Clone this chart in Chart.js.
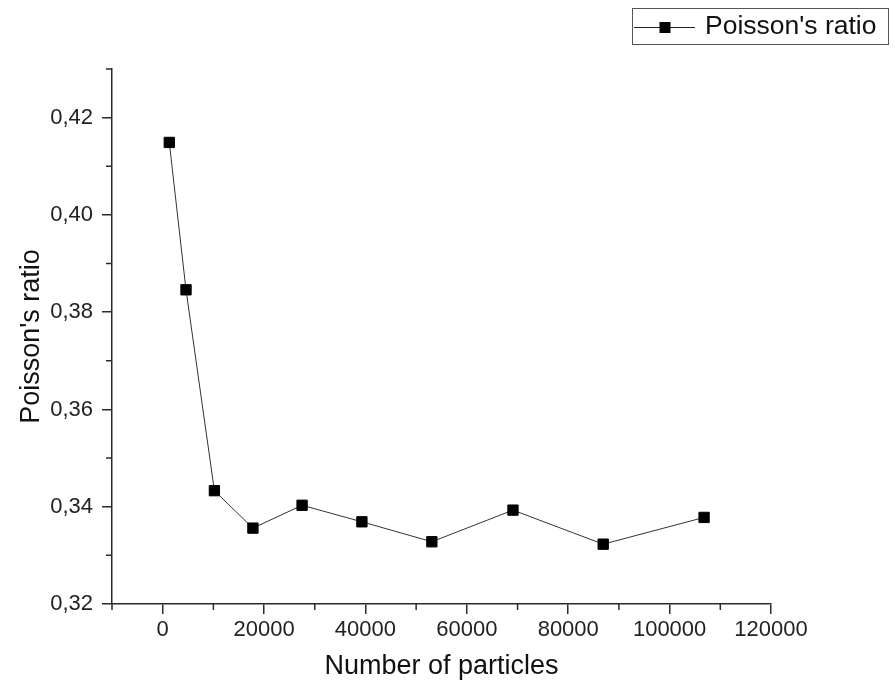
<!DOCTYPE html>
<html>
<head>
<meta charset="utf-8">
<title>Poisson's ratio</title>
<script src="https://cdn.jsdelivr.net/npm/chart.js@4.4.1/dist/chart.umd.min.js"></script>
<style>
    html, body { margin: 0; padding: 0; background: #fff; }
    canvas { display: block; }
</style>
</head>
<body>
<canvas id="grafico" width="895" height="686"></canvas>
<script>
// ======= Datos =======
const particles = [1300, 4600, 10200, 17800, 27500, 39300, 53100, 69100, 86900, 106800];
const ratio = [0.4149, 0.3846, 0.3433, 0.3356, 0.3403, 0.3369, 0.3328, 0.3393, 0.3323, 0.3378];

const xTicks = [0, 20000, 40000, 60000, 80000, 100000, 120000];
const xMinor = [-10000, 10000, 30000, 50000, 70000, 90000, 110000];
const yTicks = [0.32, 0.34, 0.36, 0.38, 0.40, 0.42];
const yMinor = [0.33, 0.35, 0.37, 0.39, 0.41, 0.43];

const serieNombre = "Poisson's ratio";
const ejeX = 'Number of particles';
const ejeY = "Poisson's ratio";

const fuente = 'Arial, "Liberation Sans", sans-serif';
const ejeColor = '#2a2a2a';

// ======= Plugin: ticks menores + leyenda con recuadro =======
const extrasPlugin = {
    id: 'extras',
    afterDraw(chart) {
        const ctx = chart.ctx;
        const xs = chart.scales.x;
        const ys = chart.scales.y;
        const area = chart.chartArea;

        ctx.save();
        ctx.strokeStyle = ejeColor;
        ctx.lineWidth = 1.5;
        ctx.beginPath();
        xMinor.forEach(v => {
            const px = xs.getPixelForValue(v);
            ctx.moveTo(px, area.bottom);
            ctx.lineTo(px, area.bottom + 6);
        });
        yMinor.forEach(v => {
            const py = ys.getPixelForValue(v);
            ctx.moveTo(area.left, py);
            ctx.lineTo(area.left - 6, py);
        });
        ctx.stroke();

        // leyenda
        ctx.strokeStyle = '#555';
        ctx.lineWidth = 1;
        ctx.strokeRect(632.5, 8.5, 256, 36);
        ctx.strokeStyle = '#222';
        ctx.beginPath();
        ctx.moveTo(634, 27.5);
        ctx.lineTo(695, 27.5);
        ctx.stroke();
        ctx.fillStyle = '#000';
        ctx.fillRect(659.5, 22, 11, 11);
        ctx.font = '26.5px ' + fuente;
        ctx.textBaseline = 'middle';
        ctx.fillStyle = '#111';
        ctx.fillText(chart.data.datasets[0].label, 705, 27);
        ctx.restore();
    }
};

// ======= Grafico =======
const ctx = document.getElementById('grafico').getContext('2d');
const chart = new Chart(ctx, {
    type: 'scatter',
    data: {
        datasets: [{
            label: serieNombre,
            data: particles.map((n, i) => ({ x: n, y: ratio[i] })),
            showLine: true,
            borderColor: '#333',
            borderWidth: 1,
            pointStyle: 'rect',
            pointRadius: 7.3,
            pointBackgroundColor: '#000',
            pointBorderColor: '#000',
            pointBorderWidth: 1
        }]
    },
    plugins: [extrasPlugin],
    options: {
        responsive: false,
        animation: false,
        layout: {
            padding: { left: 0, right: 124, top: 69, bottom: 0 }
        },
        plugins: {
            legend: { display: false },
            tooltip: { enabled: false }
        },
        scales: {
            x: {
                type: 'linear',
                min: -10000,
                max: 120000,
                afterBuildTicks: s => { s.ticks = xTicks.map(v => ({ value: v })); },
                afterFit: s => { s.height = 82; },
                grid: {
                    drawOnChartArea: false,
                    drawTicks: true,
                    tickLength: 10,
                    tickColor: ejeColor,
                    lineWidth: 1.5
                },
                border: { display: true, color: ejeColor, width: 1.5 },
                ticks: {
                    color: '#222',
                    padding: 3,
                    maxRotation: 0,
                    autoSkip: false,
                    font: { family: fuente, size: 22 },
                    callback: v => String(v)
                },
                title: {
                    display: true,
                    text: ejeX,
                    color: '#111',
                    padding: { top: 0, bottom: 3 },
                    font: { family: fuente, size: 27 }
                }
            },
            y: {
                type: 'linear',
                min: 0.32,
                max: 0.43,
                afterBuildTicks: s => { s.ticks = yTicks.map(v => ({ value: v })); },
                afterFit: s => { s.width = 112; },
                grid: {
                    drawOnChartArea: false,
                    drawTicks: true,
                    tickLength: 10,
                    tickColor: ejeColor,
                    lineWidth: 1.5
                },
                border: { display: true, color: ejeColor, width: 1.5 },
                ticks: {
                    color: '#222',
                    padding: 9,
                    autoSkip: false,
                    font: { family: fuente, size: 22 },
                    callback: v => v.toFixed(2).replace('.', ',')
                },
                title: {
                    display: true,
                    text: ejeY,
                    color: '#111',
                    padding: { top: 15, bottom: 0 },
                    font: { family: fuente, size: 27 }
                }
            }
        }
    }
});
</script>
</body>
</html>
